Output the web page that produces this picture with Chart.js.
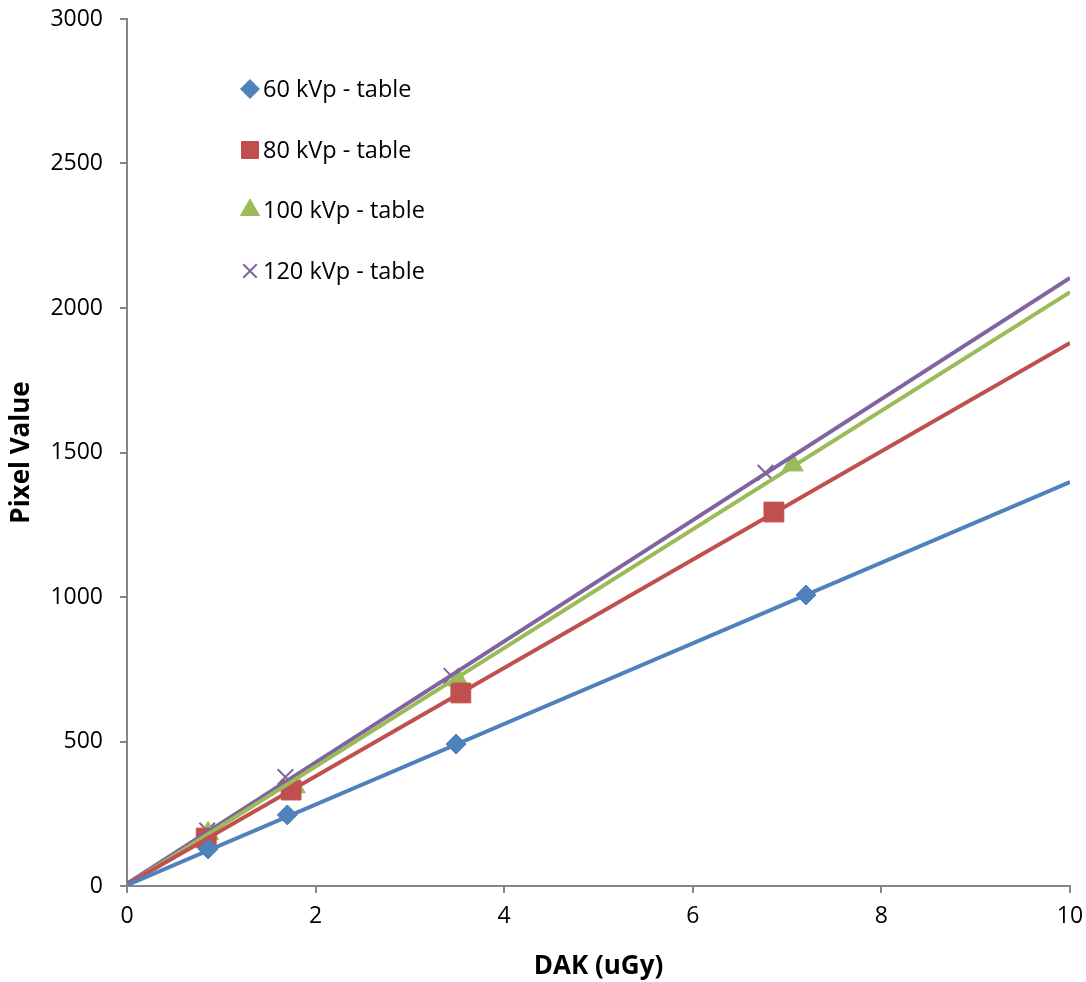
<!DOCTYPE html>
<html>
<head>
<meta charset="utf-8">
<script src="https://cdn.jsdelivr.net/npm/chart.js@4.4.0/dist/chart.umd.min.js"></script>
<style>
  html, body { margin: 0; padding: 0; background: #ffffff; }
  #wrap { width: 1086px; height: 982px; }
</style>
</head>
<body>
<div id="wrap"><canvas id="doseChart" width="1086" height="982"></canvas></div>
<script>
// measured points (DAK in uGy, mean pixel value)
const dak60 = [0.86, 1.70, 3.49, 7.20];
const pv60 = [128, 246, 491, 1007];
const dak80 = [0.84, 1.74, 3.54, 6.86];
const pv80 = [166, 332, 668, 1294];
const dak100 = [0.86, 1.78, 3.51, 7.06];
const pv100 = [182, 343, 713, 1457];
const dak120 = [0.85, 1.68, 3.44, 6.77];
const pv120 = [192, 377, 727, 1430];

// linear trendlines, read at both ends of the x axis
const trendX = [0, 10];
const trend60 = [3, 1398];
const trend80 = [5, 1879];
const trend100 = [3, 2055];
const trend120 = [8, 2104];

const seriesNames = ['60 kVp - table', '80 kVp - table', '100 kVp - table', '120 kVp - table'];
const seriesColors = ['#4F81BD', '#C0504D', '#9BBB59', '#8064A2'];
const yTicks = [0, 500, 1000, 1500, 2000, 2500, 3000];
const xTicks = [0, 2, 4, 6, 8, 10];

const FONT = "'Open Sans', 'Noto Sans', sans-serif";
const AXIS_GREY = '#868686';

const toPoints = (xs, ys) => xs.map((x, i) => ({ x: x, y: ys[i] }));

const markerStyles = [
    { pointStyle: 'rectRot', radius: 10, borderWidth: 1 },
    { pointStyle: 'rect', radius: 14, borderWidth: 1 },
    { pointStyle: 'triangle', radius: 12, borderWidth: 1 },
    { pointStyle: 'crossRot', radius: 11, borderWidth: 2 },
];

function scatterSet(i, xs, ys) {
    const m = markerStyles[i];
    return {
        label: seriesNames[i],
        data: toPoints(xs, ys),
        showLine: false,
        pointStyle: m.pointStyle,
        pointRadius: m.radius,
        pointHoverRadius: m.radius,
        pointBorderWidth: m.borderWidth,
        pointBackgroundColor: seriesColors[i],
        pointBorderColor: seriesColors[i],
        order: 2,
    };
}

function trendSet(i, ys) {
    return {
        label: seriesNames[i] + ' trend',
        data: toPoints(trendX, ys),
        showLine: true,
        borderColor: seriesColors[i],
        borderWidth: 4,
        pointRadius: 0,
        pointHoverRadius: 0,
        fill: false,
        order: 1,
    };
}

// legend drawn inside the plot area, like the original sheet chart
const innerLegend = {
    id: 'innerLegend',
    afterDraw(chart) {
        const ctx = chart.ctx;
        const rowY = [89, 150, 210, 271];
        ctx.save();
        ctx.font = '23.5px ' + FONT;
        ctx.textBaseline = 'middle';
        ctx.textAlign = 'left';
        seriesNames.forEach((name, i) => {
            const m = markerStyles[i];
            ctx.fillStyle = seriesColors[i];
            ctx.strokeStyle = seriesColors[i];
            ctx.lineWidth = m.borderWidth;
            const legendRadius = m.pointStyle === 'rect' ? 12 : (m.pointStyle === 'triangle' ? 11 : 9.5);
            Chart.helpers.drawPoint(ctx, {
                pointStyle: m.pointStyle,
                radius: legendRadius,
                rotation: 0,
                borderWidth: m.borderWidth,
            }, 250, rowY[i]);
            ctx.fillStyle = '#000000';
            ctx.fillText(name, 263, rowY[i] + 1);
        });
        ctx.restore();
    }
};

const plainNumber = (value) => String(value);

const ctx = document.getElementById('doseChart').getContext('2d');
new Chart(ctx, {
    type: 'scatter',
    data: {
        datasets: [
            trendSet(0, trend60),
            trendSet(1, trend80),
            trendSet(2, trend100),
            trendSet(3, trend120),
            scatterSet(0, dak60, pv60),
            scatterSet(1, dak80, pv80),
            scatterSet(2, dak100, pv100),
            scatterSet(3, dak120, pv120),
        ]
    },
    options: {
        responsive: false,
        animation: false,
        devicePixelRatio: 1,
        layout: { padding: { left: 0, right: 16, top: 19, bottom: 0 } },
        plugins: {
            legend: { display: false },
            tooltip: { enabled: false },
            title: { display: false },
        },
        scales: {
            x: {
                type: 'linear',
                min: 0,
                max: 10,
                afterBuildTicks: (axis) => { axis.ticks = xTicks.map(v => ({ value: v })); },
                afterFit: (axis) => {
                    axis.height = 96;
                    axis.paddingLeft = 0;
                    axis.paddingRight = 0;
                },
                border: { display: true, color: AXIS_GREY, width: 2 },
                grid: { display: true, drawOnChartArea: false, drawTicks: true, tickLength: 7, color: AXIS_GREY, lineWidth: 2 },
                ticks: { color: '#000000', font: { family: FONT, size: 23 }, padding: 10, maxRotation: 0, callback: plainNumber },
                title: {
                    display: true,
                    text: 'DAK (uGy)',
                    color: '#000000',
                    font: { family: FONT, size: 26, weight: 'bold' },
                    padding: { top: 0, bottom: 0 },
                },
            },
            y: {
                type: 'linear',
                min: 0,
                max: 3000,
                afterBuildTicks: (axis) => { axis.ticks = yTicks.map(v => ({ value: v })); },
                afterFit: (axis) => {
                    axis.width = 127;
                    axis.paddingTop = 0;
                    axis.paddingBottom = 0;
                },
                border: { display: true, color: AXIS_GREY, width: 2 },
                grid: { display: true, drawOnChartArea: false, drawTicks: true, tickLength: 7, color: AXIS_GREY, lineWidth: 2 },
                ticks: { color: '#000000', font: { family: FONT, size: 23 }, padding: 17, callback: plainNumber },
                title: {
                    display: true,
                    text: 'Pixel Value',
                    color: '#000000',
                    font: { family: FONT, size: 26, weight: 'bold' },
                    padding: { top: 6, bottom: 0 },
                },
            },
        },
    },
    plugins: [innerLegend],
});
</script>
</body>
</html>
